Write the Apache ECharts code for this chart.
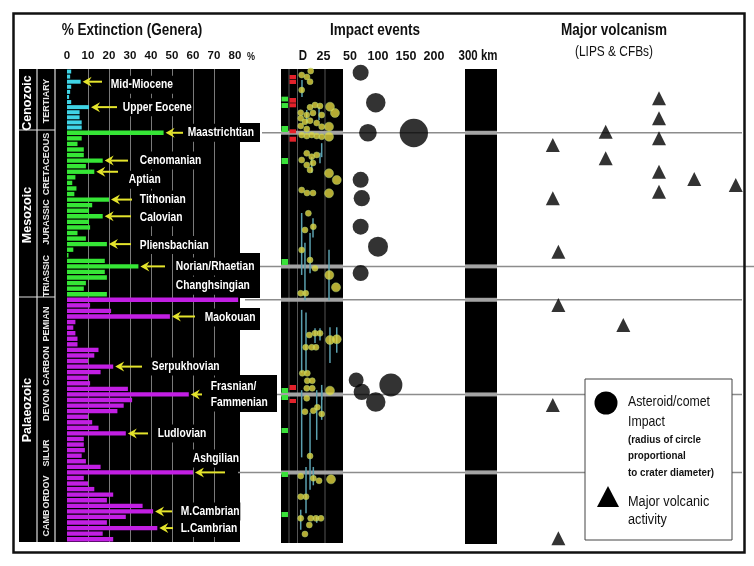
<!DOCTYPE html>
<html><head><meta charset="utf-8">
<script src="https://cdn.jsdelivr.net/npm/echarts@6/dist/echarts.min.js"></script>
<style>html,body{margin:0;padding:0;background:#fff}#c{width:754px;height:566px}</style>
</head><body><div id="c"></div>
<script>
// ================= DATA =================
// % extinction of genera per stage (top = youngest)
const cenozoicExt = [2,1.5,6.5,2,1.5,1,2,10.5,6,6,7,7];
const mesozoicExt = [46,7,5,8,8,17,9,13,4,2.5,4.5,3.5,20,12,10.5,17,10.5,11,5,9,19,3,0.7,18,34,18,19,9,8,19];
const palaeozoicExt = [81.5,11,21,49,4,3,4,5,5,15,13,10,22,16,10,11,29,58,31,27,24,10,12,15,28,8,8,8.5,7,9,16,60,8,10,13,22,19,36,41,28,19,43,17,22];
const extTicks = [0,10,20,30,40,50,60,70,80];

// named extinction events: [era, stage index, name]
const extinctionEvents = [
  ['cz',2,'Mid-Miocene'],['cz',7,'Upper Eocene'],['mz',0,'Maastrichtian'],['mz',5,'Cenomanian'],
  ['mz',7,'Aptian'],['mz',12,'Tithonian'],['mz',15,'Calovian'],['mz',20,'Pliensbachian'],
  ['mz',24,'Norian/Rhaetian'],['pz',0,'Changhsingian'],['pz',3,'Maokouan'],['pz',12,'Serpukhovian'],
  ['pz',17,'Frasnian/\nFammenian'],['pz',24,'Ludlovian'],['pz',31,'Ashgilian'],['pz',38,'M.Cambrian'],['pz',41,'L.Cambrian']
];
// events marked by a boundary line across the chart
const boundaryEvents = ['Maastrichtian','Norian/Rhaetian','Changhsingian','Frasnian/\nFammenian','Ashgilian'];

const eraNames = ['Cenozoic','Mesozoic','Palaeozoic'];
const periodNames = ['TERTIARY','CRETACEOUS','JURASSIC','TRIASSIC','PEMIAN','CARBON','DEVON','SILUR','ORDOV','CAMB'];

const smallImpactKm  = [4.4,12.9,9.4,12.3,4.4,17,21.7,12.3,31.1,35.8,3.5,9.2,15.1,23.3,3.5,7.5,12.3,18.6,23.3,3.5,9.2,30.2,4.4,9.2,13.9,18.6,23.3,30.2,9.2,13.9,18.6,4.4,9.2,15.1,12.3,30.2,37.5,4.4,9.4,15.1,30.2,10.7,7.5,15.4,4.4,12.3,17,30.5,36.8,3.5,8.2,11.6,17,21.7,31.1,37.5,8.2,13.9,17.9,5,9.7,9.7,14.4,9.2,14.4,31.1,9.2,7.5,15.4,19.2,23.3,12.3,3.5,15.4,20.8,32.1,3.5,8.5,3.5,12.9,17.9,22.6,11.6,7.5];
const smallImpactAge = [6.9,2.3,9.2,14.6,24.1,41.3,42.4,43.9,43.2,50.4,50.1,52.7,50.4,52.7,56.5,60.4,59.2,61.9,66.1,65.3,68.8,66.1,75.6,76.8,75.6,76.8,77.6,77.6,96.6,100.5,98.5,104.3,110,107.7,115.7,119.5,127.2,138.7,142.1,142.1,142.4,165.4,184.5,180.7,207.4,218.9,228.4,236.1,250.2,257,257,304.8,302.9,302.9,310.5,309.7,318.9,318.9,318.9,348.7,348.7,357.2,357.2,365.9,365.9,368.6,377.3,392.7,391.5,387.7,395.3,443.5,466.4,469,471.8,470.2,490.1,490.1,514.9,514.9,514.9,514.9,522.5,532.9];
// age uncertainty ranges: [km, from Ma, to Ma]
const ageRanges = [[4.4,165,236],[7.5,199,265],[12.3,188,234],[15.1,171,193],[30.2,207,265],[4.4,276,348],[8.5,279,348],[17,297,314],[21.7,297,311],[31.1,296,337],[37.5,296,325],[23.3,362,379],[4.4,368,445],[12.3,394,482],[18.6,368,425],[23.3,368,402],[8.5,456,509],[15.4,456,477],[3.5,505,528],[18.6,513,520],[4.7,12.6,32],[9.2,47,62],[20.8,43.5,58.4],[21.7,96,108],[13.9,101,119],[23.3,85,101]];
// "D" column flags (age ranges, Ma)
const dGreen = [[31.7,37.2],[39,44.7],[65.3,72.2],[102,108.9],[217.7,224.6],[365.5,371.3],[373.6,379.3],[411.4,417.1],[461.8,467.5],[507.6,513.4]];
const dRed = [[6.9,11.8],[12.6,17.2],[33.2,38.6],[39.3,43.9],[69.1,73.7],[77.6,83.3],[362.1,367.8],[378.1,382.7]];
// large impacts
const bigImpactKm  = [69,96,82,164,69,71,69,100,69,61,123,71,96];
const bigImpactAge = [4.2,38.6,73,73.3,127,148,180.7,203.6,233.8,356.4,362,370,381.6];
// major volcanism (lane, age Ma)
const volcLane = [10.6,35.2,35.2,60,60,60,60,60,76.4,95.7,10.6,13.2,13.2,43.4,10.6,13.2];
const volcAge  = [87.1,71.8,102.3,33.6,56.5,79.4,117.7,140.6,126,132.9,148.2,209.4,270.4,293.4,385,537.8];

// ================= CHART =================
const SF = "'Liberation Sans',Arial,sans-serif";
const NX = 0.82; // horizontal condensing for the narrow lettering
const chart = echarts.init(document.getElementById('c'));
const eras = ['cz','mz','pz'];
const eraData = {cz:cenozoicExt, mz:mesozoicExt, pz:palaeozoicExt};
const eraColor = {cz:'#3fd4e6', mz:'#36e636', pz:'#c21fe3'};
const eraBox = {cz:[69,61], mz:[130,167], pz:[297,245]};

const grids=[], xAxes=[], yAxes=[], series=[];
eras.forEach((e,k)=>{
  grids.push({left:67,width:168,top:eraBox[e][0],height:eraBox[e][1],outerBoundsMode:'none'});
  xAxes.push({gridIndex:k,type:'value',min:0,max:80,interval:10,position:'top',
    axisLine:{show:false},axisTick:{show:false},
    axisLabel:{show:k===0,margin:7,color:'#111',fontFamily:SF,fontWeight:'bold',fontSize:11.5},
    splitLine:{show:true,showMinLine:false,showMaxLine:false,lineStyle:{color:'#7a7a7a',width:1}}});
  yAxes.push({gridIndex:k,type:'category',inverse:true,data:eraData[e].map((_,i)=>String(i)),show:false});
  series.push({type:'bar',xAxisIndex:k,yAxisIndex:k,data:eraData[e],barCategoryGap:'22%',clip:false,
    itemStyle:{color:eraColor[e]},z:3,silent:true});
});
const timeY = gi=>({gridIndex:gi,type:'value',min:0,max:542,inverse:true,show:false});
// 3: D column
grids.push({left:281,width:16,top:69,height:473,outerBoundsMode:'none'});
xAxes.push({gridIndex:3,type:'category',data:['G','R'],show:false});
yAxes.push(timeY(3));
// 4: small impacts 0-50 km
grids.push({left:297,width:53,top:69,height:473,outerBoundsMode:'none'});
xAxes.push({gridIndex:4,type:'value',min:0,max:50,interval:25,position:'top',axisLine:{show:false},axisTick:{show:false},splitLine:{show:false},
  axisLabel:{margin:6,color:'#111',fontFamily:SF,fontWeight:'bold',fontSize:12.5,formatter:v=>v===0?'':String(v)}});
yAxes.push(timeY(4));
// 5: large impacts 50-200 km
grids.push({left:350,width:84,top:69,height:473,outerBoundsMode:'none'});
xAxes.push({gridIndex:5,type:'value',min:50,max:200,interval:50,position:'top',axisLine:{show:false},axisTick:{show:false},splitLine:{show:false},
  axisLabel:{margin:6,color:'#111',fontFamily:SF,fontWeight:'bold',fontSize:12.5,formatter:v=>v===50?'':String(v)}});
yAxes.push(timeY(5));
// 6: volcanism
grids.push({left:530,width:215,top:69,height:473,outerBoundsMode:'none'});
xAxes.push({gridIndex:6,type:'value',min:0,max:100,show:false});
yAxes.push(timeY(6));

series.push({type:'custom',xAxisIndex:3,yAxisIndex:3,z:4,silent:true,
  data:dGreen.map(r=>[0,r[0],r[1]]).concat(dRed.map(r=>[1,r[0],r[1]])),
  renderItem:(p,api)=>{const c=api.value(0);const a=api.coord([c,api.value(1)]),b=api.coord([c,api.value(2)]);const w=api.size([1,0])[0];
    return {type:'rect',shape:{x:a[0]-w/2+0.5,y:a[1],width:w-1.5,height:b[1]-a[1]},style:{fill:c===0?'#3ae23a':'#e3222b'}};}});
series.push({type:'custom',xAxisIndex:4,yAxisIndex:4,z:3,silent:true,data:ageRanges,
  renderItem:(p,api)=>{const a=api.coord([api.value(0),api.value(1)]),b=api.coord([api.value(0),api.value(2)]);
    return {type:'line',shape:{x1:a[0],y1:a[1],x2:b[0],y2:b[1]},style:{stroke:'#5a9fae',lineWidth:1.5}};}});
series.push({type:'scatter',xAxisIndex:4,yAxisIndex:4,z:5,silent:true,
  data:smallImpactKm.map((k,i)=>[k,smallImpactAge[i]]),symbolSize:v=>v[0]>25?9:6,
  itemStyle:{color:'#e2d640',borderColor:'rgba(170,210,120,0.6)',borderWidth:1}});
series.push({type:'scatter',xAxisIndex:5,yAxisIndex:5,z:5,silent:true,
  data:bigImpactKm.map((k,i)=>[k,bigImpactAge[i]]),symbolSize:v=>7+0.13*v[0],itemStyle:{color:'#000'}});
series.push({type:'scatter',xAxisIndex:6,yAxisIndex:6,z:5,silent:true,symbol:'triangle',symbolSize:14,
  data:volcLane.map((l,i)=>[l,volcAge[i]]),itemStyle:{color:'#000'}});

chart.setOption({animation:false,backgroundColor:'#fff',grid:grids,xAxis:xAxes,yAxis:yAxes,series:series});

// ================= ANNOTATIONS (positioned through the axes) =================
const eraIdx = e=>eras.indexOf(e);
const barPt = (e,i,v)=>chart.convertToPixel({xAxisIndex:eraIdx(e),yAxisIndex:eraIdx(e)},[v,i]);
const noteLayout = {
 'Mid-Miocene':{tail:102,tx:110,dy:3},'Upper Eocene':{tail:117,tx:122,dy:0},'Maastrichtian':{tail:183,tx:187,dy:0},
 'Cenomanian':{tail:128,tx:139,dy:0},'Aptian':{tail:118,tx:128,dy:8},'Tithonian':{tail:132,tx:139,dy:0},
 'Calovian':{tail:131,tx:139,dy:1},'Pliensbachian':{tail:131,tx:139,dy:1},'Norian/Rhaetian':{tail:165,tx:175,dy:0},
 'Changhsingian':{tail:null,tx:175,dy:-14},'Maokouan':{tail:195,tx:204,dy:1},'Serpukhovian':{tail:142,tx:151,dy:0},
 'Frasnian/\nFammenian':{tail:202,tx:210,dy:0},'Ludlovian':{tail:148,tx:157,dy:0},'Ashgilian':{tail:225,tx:192,dy:-14},
 'M.Cambrian':{tail:172,tx:180,dy:0},'L.Cambrian':{tail:173,tx:180,dy:0}
};
const lineSpan = {'Maastrichtian':[262,742],'Norian/Rhaetian':[260,754],'Changhsingian':[245,742],'Frasnian/\nFammenian':[277,742],'Ashgilian':[238,742]};
const G = [];
const txt = (s,x,y,font,fill,extra,sx)=>({type:'text',x:x,y:y,z:20,silent:true,scaleX:(sx===undefined?NX:sx),
  style:Object.assign({text:s,x:0,y:0,font:font,fill:fill||'#111',align:'center',verticalAlign:'middle'},extra||{})});
const rect = (x,y,w,h,fill,z,stroke,lw)=>({type:'rect',z:z,silent:true,shape:{x:x,y:y,width:w,height:h},style:{fill:fill,stroke:stroke||null,lineWidth:lw||0}});
const line = (x1,y1,x2,y2,color,w,z)=>({type:'line',z:z,silent:true,shape:{x1:x1,y1:y1,x2:x2,y2:y2},style:{stroke:color,lineWidth:w}});

// frame
G.push(rect(13.5,13.5,731,539,null,30,'#111',2.5));
// extinction black panel + label boxes
G.push(rect(19,69,221,473,'#000',-5));
[[230,123,30,19],[230,253,30,45],[230,308,30,22],[230,375,47,37]].forEach(b=>G.push(rect(b[0],b[1],b[2],b[3],'#000',-5)));
// era / period columns
G.push(line(37,69,37,542,'#ddd',1.2,1));G.push(line(55,69,55,542,'#ddd',1.2,1));
G.push(line(19,130,55,130,'#ddd',1.2,1));G.push(line(19,297,55,297,'#ddd',1.2,1));
const eraY=[103,215,410];
eraNames.forEach((n,i)=>G.push(Object.assign(txt(n,28,eraY[i],'bold 12.5px '+SF,'#fff',null,1),{rotation:Math.PI/2})));
const perY=[101,164,222,276,324,366,405,453,492,523];
periodNames.forEach((n,i)=>G.push(Object.assign(txt(n,46.5,perY[i],'bold 9px '+SF,'#e6e6e6',null,1),{rotation:Math.PI/2})));
// titles
G.push(txt('% Extinction (Genera)',132,30,'bold 16.5px '+SF));
G.push(txt('%',251,57,'bold 11px '+SF));
G.push(txt('Impact events',375,30,'bold 16.5px '+SF));
G.push(txt('D',303,56,'bold 14px '+SF));
G.push(txt('300 km',478,56,'bold 14px '+SF));
G.push(txt('Major volcanism',614,30,'bold 16.5px '+SF));
G.push(txt('(LIPS & CFBs)',614,52,'14.5px '+SF));
// impact panel
G.push(rect(281,69,62,474,'#000',-5));
G.push(line(289,69,289,543,'#555',1,-4));G.push(line(297.5,69,297.5,543,'#555',1,-4));G.push(line(325,69,325,543,'#555',1,-4));
G.push(rect(465,69,32,475,'#000',-5));
// boundary lines
extinctionEvents.forEach(ev=>{
  if(boundaryEvents.indexOf(ev[2])<0) return;
  const y = barPt(ev[0],ev[1],0)[1];
  const s = lineSpan[ev[2]];
  G.push(line(s[0],y,s[1],y,'#8c8c8c',1.5,1));
  G.push(rect(281,y-2,62,4,'#a3a3a3',1));
  G.push(rect(465,y-2,32,4,'#a3a3a3',1));
});
// event labels and arrows
extinctionEvents.forEach(ev=>{
  const L = noteLayout[ev[2]];
  const data = eraData[ev[0]];
  const p = barPt(ev[0],ev[1],data[ev[1]]);
  const y = p[1];
  if(L.tail!==null){
    const tip = p[0]+2;
    G.push(line(tip+6,y,L.tail,y,'#e4e42c',2,15));
    G.push({type:'polygon',z:15,silent:true,shape:{points:[[tip,y],[tip+9,y-5],[tip+6,y],[tip+9,y+5]]},style:{fill:'#e4e42c'}});
  }
  G.push(txt(ev[2],L.tx,y+L.dy,'bold 12.5px '+SF,'#fff',{align:'left',lineHeight:16,backgroundColor:'#000',padding:[1,1]}));
});
// legend
G.push(rect(585,379,147,161,'#fff',25,'#444',1));
G.push({type:'circle',z:26,silent:true,shape:{cx:606,cy:403,r:11.5},style:{fill:'#000'}});
G.push({type:'polygon',z:26,silent:true,shape:{points:[[608,486],[619,507],[597,507]]},style:{fill:'#000'}});
const lg=(s,y,f,sx)=>G.push(Object.assign(txt(s,628,y,f,'#111',{align:'left'},sx),{z:26}));
lg('Asteroid/comet',402,'15px '+SF);
lg('Impact',421.5,'15px '+SF);
lg('(radius of circle',440,'bold 10px '+SF,0.98);
lg('proportional',456.5,'bold 10px '+SF,0.98);
lg('to crater diameter)',473,'bold 10px '+SF,0.98);
lg('Major volcanic',502,'15.5px '+SF);
lg('activity',520,'15.5px '+SF);

chart.setOption({graphic:{elements:G}});
</script></body></html>
